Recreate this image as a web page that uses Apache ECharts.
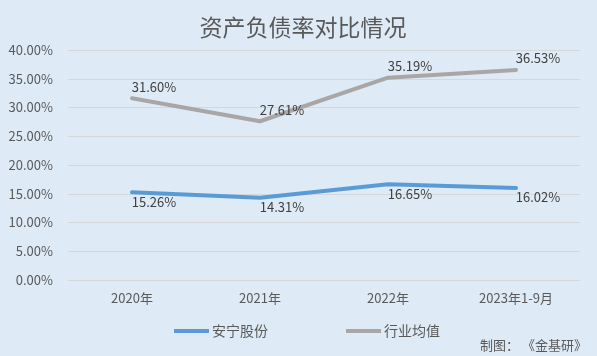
<!DOCTYPE html>
<html><head><meta charset="utf-8">
<script src="https://cdn.jsdelivr.net/npm/echarts@6/dist/echarts.min.js"></script>
<style>html,body{margin:0;padding:0;background:#DEEAF6;}#c{width:597px;height:356px;}</style>
</head><body><div id="c"></div>
<script>
const categories = ['2020年', '2021年', '2022年', '2023年1-9月'];
const anning = [15.26, 14.31, 16.65, 16.02];
const industry = [31.60, 27.61, 35.19, 36.53];
const seriesNames = ['安宁股份', '行业均值'];
const title = '资产负债率对比情况';
const source = '制图： 《金基研》';

const font = '"Noto Sans CJK SC", "Microsoft YaHei", sans-serif';
const chart = echarts.init(document.getElementById('c'), null, {renderer: 'canvas'});
chart.setOption({
  backgroundColor: '#DEEAF6',
  textStyle: {fontFamily: font},
  title: [{
    text: title, left: 298, top: 11, textAlign: 'center',
    textStyle: {fontSize: 23, fontWeight: 'normal', color: '#595959', fontFamily: font}
  }, {
    text: source, right: 10, top: 339, padding: 0,
    textStyle: {fontSize: 13, fontWeight: 'normal', color: '#595959', fontFamily: font}
  }],
  legend: {
    data: seriesNames, top: 319, left: 169, itemGap: 78,
    itemWidth: 35, itemHeight: 4, icon: 'rect',
    textStyle: {fontSize: 14, color: '#595959', fontFamily: font, padding: [0, 0, 0, -2]}
  },
  grid: {left: 68, right: 17, top: 50, bottom: 76},
  xAxis: {
    type: 'category', data: categories, boundaryGap: true,
    axisLine: {show: false}, axisTick: {show: false},
    axisLabel: {fontSize: 13, color: '#595959', margin: 12, fontFamily: font}
  },
  yAxis: {
    type: 'value', min: 0, max: 40, interval: 5,
    axisLine: {show: false}, axisTick: {show: false},
    splitLine: {lineStyle: {color: '#D5D8DB', width: 1}},
    axisLabel: {fontSize: 13, color: '#595959', margin: 15, fontFamily: font,
      formatter: v => v.toFixed(2) + '%'}
  },
  series: [{
    name: seriesNames[0], type: 'line', data: anning, symbol: 'circle', symbolSize: 0, showSymbol: true,
    lineStyle: {color: '#5B9BD5', width: 4, cap: 'round'}, itemStyle: {color: '#5B9BD5'},
    label: {show: true, position: 'bottom', distance: 3, offset: [22, 0], fontSize: 13, color: '#404040',
      fontFamily: font, formatter: p => p.value.toFixed(2) + '%'}
  }, {
    name: seriesNames[1], type: 'line', data: industry, symbol: 'circle', symbolSize: 0, showSymbol: true,
    lineStyle: {color: '#ABA6A6', width: 4, cap: 'round'}, itemStyle: {color: '#ABA6A6'},
    label: {show: true, position: 'top', distance: 5, offset: [22, 0], fontSize: 13, color: '#404040',
      fontFamily: font, formatter: p => p.value.toFixed(2) + '%'}
  }]
});
</script></body></html>
